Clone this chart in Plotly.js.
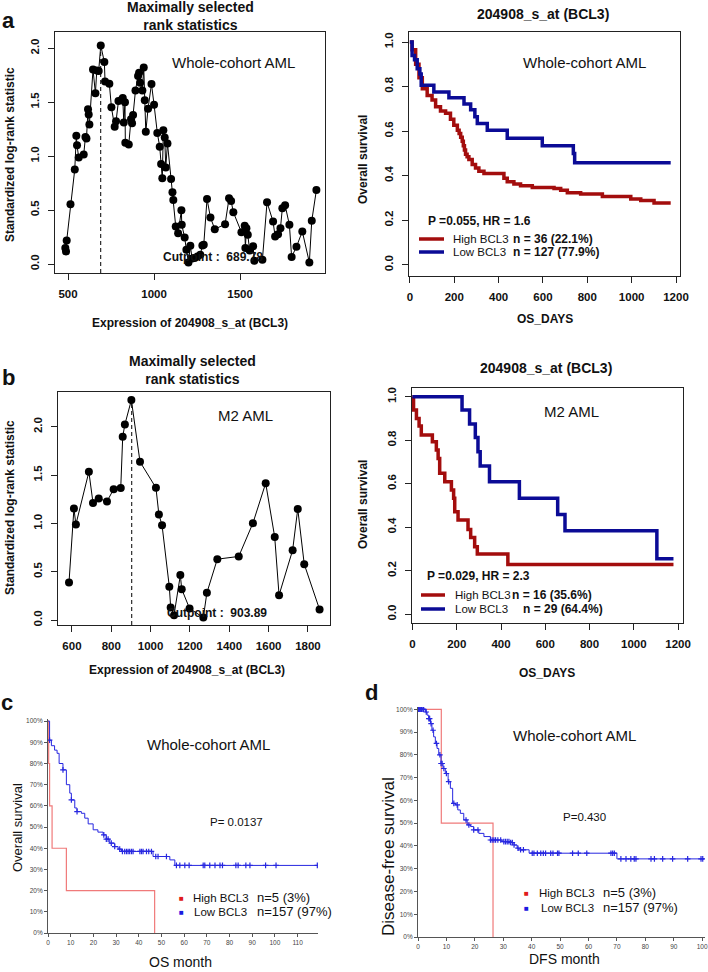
<!DOCTYPE html>
<html>
<head>
<meta charset="utf-8">
<script src="https://cdn.plot.ly/plotly-3.0.1.min.js"></script>
<style>
  html, body { margin: 0; padding: 0; background: #fff; }
  #fig { width: 708px; height: 972px; }
</style>
</head>
<body>
<div id="fig"></div>
<script>
// panel a, left: maximally selected rank statistics, whole cohort
const aExpr = [484, 488, 492, 514, 539, 548, 552, 562, 591, 601, 607, 616, 620, 624, 645, 659, 667, 678, 690, 711,
  715, 740, 752, 771, 779, 793, 812, 818, 824, 831, 833, 853, 866, 872, 878, 892, 907, 913, 919, 932,
  940, 946, 952, 965, 985, 1000, 1019, 1033, 1041, 1048, 1054, 1062, 1068, 1078, 1099, 1107, 1112, 1126, 1140, 1159,
  1161, 1178, 1188, 1200, 1211, 1221, 1236, 1252, 1269, 1281, 1289, 1308, 1328, 1353, 1413, 1436, 1448, 1461, 1508, 1527,
  1531, 1537, 1545, 1556, 1576, 1583, 1630, 1657, 1692, 1704, 1721, 1735, 1746, 1762, 1787, 1800, 1828, 1862, 1903, 1917, 1944];
const aStat = [0.148, 0.117, 0.218, 0.554, 0.877, 1.188, 1.100, 0.988, 1.015, 1.178, 1.163, 1.434, 1.385, 1.292, 1.803, 1.582, 1.794, 1.788, 2.025, 1.871,
  1.692, 1.671, 1.452, 1.271, 1.323, 1.511, 1.523, 1.538, 1.311, 1.498, 1.123, 1.108, 1.342, 1.305, 1.382, 1.609, 1.742, 1.772, 1.680, 1.609,
  1.822, 1.517, 1.225, 1.440, 1.668, 1.477, 1.215, 1.086, 0.926, 0.794, 1.240, 1.172, 0.895, 1.117, 0.788, 0.665, 0.594, 0.348, 0.286, 0.498,
  0.363, 0.246, 0.132, 0.015, 0.169, 0.052, 0.055, 0.071, 0.086, 0.172, 0.178, 0.603, 0.431, 0.323, 0.369, 0.609, 0.585, 0.480, 0.295, 0.354,
  0.148, 0.332, 0.271, 0.126, 0.166, 0.031, 0.040, 0.572, 0.394, 0.255, 0.277, 0.332, 0.517, 0.545, 0.363, 0.065, 0.160, 0.302, 0.015, 0.400, 0.686];
const aCut = 689.78;

// panel b, left: M2 AML
const bExpr = [585, 610, 620, 686, 707, 736, 778, 812, 848, 858, 869, 902, 946, 1027, 1042, 1058, 1095, 1102, 1119, 1151,
  1158, 1198, 1268, 1286, 1339, 1448, 1520, 1585, 1631, 1653, 1722, 1748, 1781, 1859];
const bStat = [0.39, 1.155, 0.99, 1.534, 1.213, 1.259, 1.228, 1.355, 1.366, 1.896, 2.024, 2.276, 1.638, 1.369, 1.093, 0.983, 0.345, 0.131, 0.052, 0.466,
  0.321, 0.121, 0.028, 0.283, 0.631, 0.659, 1.003, 1.417, 0.859, 0.259, 0.724, 1.151, 0.579, 0.11];
const bCut = 903.89;

// panel a, right: OS by BCL3, whole cohort (days)
const aHighT = [0, 10, 26, 41, 56, 78, 100, 116, 138, 161, 183, 198, 214, 222, 229, 236, 241, 246, 251, 258, 266, 281, 296, 311, 334,
  424, 439, 469, 499, 552, 650, 680, 710, 770, 868, 996, 1041, 1101, 1176];
const aHighS = [1.0, 0.965, 0.90, 0.84, 0.79, 0.76, 0.74, 0.71, 0.69, 0.68, 0.654, 0.627, 0.604, 0.59, 0.573, 0.555, 0.535, 0.515, 0.496, 0.485, 0.473, 0.45, 0.435, 0.42, 0.41,
  0.389, 0.373, 0.363, 0.355, 0.347, 0.343, 0.335, 0.324, 0.318, 0.307, 0.296, 0.289, 0.278, 0.278];
const aLowT = [0, 10, 21, 33, 45, 51, 108, 176, 244, 274, 293, 304, 349, 439, 597, 737, 743, 1176];
const aLowS = [1.0, 0.94, 0.92, 0.88, 0.857, 0.806, 0.776, 0.75, 0.722, 0.696, 0.665, 0.634, 0.604, 0.568, 0.535, 0.50, 0.458, 0.458];

// panel b, right: OS by BCL3, M2 AML (days)
const bHighT = [0, 5, 18, 30, 40, 90, 108, 116, 123, 146, 176, 186, 191, 206, 251, 263, 281, 293, 431, 1179];
const bHighS = [1.0, 0.939, 0.90, 0.865, 0.824, 0.793, 0.755, 0.716, 0.648, 0.609, 0.571, 0.533, 0.471, 0.433, 0.39, 0.353, 0.31, 0.277, 0.229, 0.229];
const bLowT = [0, 224, 258, 284, 296, 306, 348, 483, 656, 689, 1104, 1179];
const bLowS = [1.0, 0.939, 0.874, 0.813, 0.747, 0.681, 0.609, 0.533, 0.459, 0.384, 0.255, 0.255];

// panel c: OS month
const cHighT = [0, 0.3, 0.7, 1.8, 8.1, 47];
const cHighS = [1.0, 0.8, 0.6, 0.4, 0.2, 0.0];
const cLowT = [0, 0.7, 1.5, 2.9, 4, 4.9, 6.6, 8.1, 9.6, 10.3, 11.8, 12.8, 14.7, 16.2, 17.7, 19.9, 22, 24.3, 25.7, 27.2,
  29.4, 30.9, 32.4, 46.3, 53.7, 55.9, 118.7];
const cLowS = [1.0, 0.91, 0.884, 0.863, 0.848, 0.80, 0.77, 0.70, 0.66, 0.628, 0.59, 0.573, 0.565, 0.542, 0.515, 0.487, 0.476, 0.463, 0.443, 0.424,
  0.408, 0.396, 0.385, 0.361, 0.345, 0.319, 0.319];
const cCensor = [0.7, 6.6, 10.3, 12.8, 24.6, 25.7, 26.5, 27.9, 29.4, 31.6, 32.8, 33.8, 34.6, 35.3, 36, 36.8, 37.5, 40.5, 41.2, 41.9,
  43.4, 44.4, 45.6, 47.5, 48.5, 52.2, 56.6, 58.1, 60.3, 62.2, 68.4, 69.1, 71.3, 73.6, 75.8, 76.9, 82.8, 83.8, 87.2, 89, 95.9, 100.5, 118.7];

// panel d: DFS month
const dHighT = [0, 8.2, 26.4];
const dHighS = [1.0, 0.5, 0.0];
const dLowT = [0, 2.6, 3.2, 3.8, 4.4, 4.9, 5.5, 6.1, 6.7, 7.3, 8.1, 8.8, 9.6, 10.6, 11.4, 12.2, 13.2, 14, 14.9, 16.1,
  17.3, 18.5, 19.6, 21.4, 23.2, 25.5, 29.6, 32.6, 33.8, 34.9, 36.1, 39.1, 70, 100.8];
const dLowS = [1.0, 0.988, 0.974, 0.959, 0.937, 0.908, 0.879, 0.85, 0.828, 0.80, 0.762, 0.74, 0.718, 0.682, 0.653, 0.587, 0.58, 0.558, 0.543, 0.514,
  0.492, 0.485, 0.47, 0.455, 0.441, 0.426, 0.419, 0.415, 0.404, 0.39, 0.383, 0.368, 0.343, 0.343];
const dCensor = [0.2, 0.6, 0.8, 1.2, 1.4, 1.8, 2.0, 2.9, 3.8, 4.1, 4.6, 5.3, 6.5, 7.7, 8.1, 8.5, 9.1, 10.0, 10.8, 12.6,
  13.8, 16.9, 17.9, 19.6, 21.1, 25.5, 26.1, 26.7, 27.3, 28.1, 29.1, 30.2, 30.8, 31.4, 32.0, 32.6, 33.2, 33.8, 35.2, 36.1,
  37.1, 40.2, 40.8, 42.0, 43.2, 44.1, 44.9, 46.7, 47.5, 49.1, 49.6, 54.4, 56.4, 59.4, 67.9, 68.5, 69.1, 71.4, 73.2, 74.9,
  76.1, 76.7, 82.0, 83.2, 86.1, 89.6, 94.9, 99.6, 100.2];

const W = 708, H = 972;
const px = v => v / W;
const py = v => 1 - v / H;
const FONT = 'Liberation Sans, Arial, sans-serif';
const RED = '#a30d0d', BLUE = '#0b0b96';
const RED2 = '#f07a7a', BLUE2 = '#2727e0';

function survAt(times, surv, t) {
  let s = surv[0];
  for (let i = 0; i < times.length; i++) if (times[i] <= t) s = surv[i];
  return s;
}

function boxAxis(dom, rng, vals, extra) {
  return Object.assign({
    domain: dom, range: rng, tickvals: vals, showline: true, mirror: true,
    linecolor: '#222', linewidth: 1, ticks: 'outside', ticklen: 6, tickcolor: '#222',
    ticklabelstandoff: 4,
    showgrid: false, zeroline: false, fixedrange: true,
    tickfont: {family: FONT, size: 11.5, weight: 'bold', color: '#111'}
  }, extra || {});
}
function gpAxis(dom, rng, dtick, extra) {
  return Object.assign({
    domain: dom, range: rng, dtick: dtick, tick0: 0, showline: true, linecolor: '#555', linewidth: 1,
    ticks: 'outside', ticklen: 3, tickcolor: '#555', showgrid: false, zeroline: false,
    tickfont: {family: FONT, size: 6.5, color: '#444'}
  }, extra || {});
}

const ySpanA = [-0.083, 2.15], ySpanB = [-0.05, 2.36];
const censorMarker = {symbol: 'cross-thin', size: 4, color: BLUE2, line: {color: BLUE2, width: 1.2}};

const traces = [
  {x: [aCut, aCut], y: [ySpanA[0], Math.max(...aStat)], xaxis: 'x', yaxis: 'y', mode: 'lines',
   line: {color: '#000', width: 1, dash: '4px,3px'}},
  {x: aExpr, y: aStat, xaxis: 'x', yaxis: 'y', mode: 'lines+markers',
   line: {color: '#000', width: 1}, marker: {color: '#000', size: 8}},
  {x: aHighT, y: aHighS, xaxis: 'x2', yaxis: 'y2', mode: 'lines', line: {shape: 'hv', color: RED, width: 3.5}},
  {x: aLowT, y: aLowS, xaxis: 'x2', yaxis: 'y2', mode: 'lines', line: {shape: 'hv', color: BLUE, width: 3.5}},
  {x: [bCut, bCut], y: [ySpanB[0], Math.max(...bStat)], xaxis: 'x3', yaxis: 'y3', mode: 'lines',
   line: {color: '#000', width: 1, dash: '4px,3px'}},
  {x: bExpr, y: bStat, xaxis: 'x3', yaxis: 'y3', mode: 'lines+markers',
   line: {color: '#000', width: 1}, marker: {color: '#000', size: 8}},
  {x: bHighT, y: bHighS, xaxis: 'x4', yaxis: 'y4', mode: 'lines', line: {shape: 'hv', color: RED, width: 3.5}},
  {x: bLowT, y: bLowS, xaxis: 'x4', yaxis: 'y4', mode: 'lines', line: {shape: 'hv', color: BLUE, width: 3.5}},
  {x: cHighT, y: cHighS, xaxis: 'x5', yaxis: 'y5', mode: 'lines', line: {shape: 'hv', color: RED2, width: 1.2}},
  {x: cLowT, y: cLowS, xaxis: 'x5', yaxis: 'y5', mode: 'lines', line: {shape: 'hv', color: BLUE2, width: 1}},
  {x: cCensor, y: cCensor.map(t => survAt(cLowT, cLowS, t)), xaxis: 'x5', yaxis: 'y5', mode: 'markers', marker: censorMarker},
  {x: dHighT, y: dHighS, xaxis: 'x6', yaxis: 'y6', mode: 'lines', line: {shape: 'hv', color: RED2, width: 1.2}},
  {x: dLowT, y: dLowS, xaxis: 'x6', yaxis: 'y6', mode: 'lines', line: {shape: 'hv', color: BLUE2, width: 1}},
  {x: dCensor, y: dCensor.map(t => survAt(dLowT, dLowS, t)), xaxis: 'x6', yaxis: 'y6', mode: 'markers', marker: censorMarker}
];

function txt(text, x, y, size, opts) {
  return Object.assign({
    text: text, x: px(x), y: py(y), xref: 'paper', yref: 'paper', showarrow: false,
    xanchor: 'center', yanchor: 'middle',
    font: {family: FONT, size: size, color: '#111'}
  }, opts || {});
}
const bold = s => ({family: FONT, size: s, color: '#111', weight: 'bold'});
const plain = s => ({family: FONT, size: s, color: '#111'});

const annotations = [
  // panel letters
  txt('a', 8, 20, 22, {font: bold(22)}),
  txt('b', 8, 378, 22, {font: bold(22)}),
  txt('c', 7, 702, 22, {font: bold(22)}),
  txt('d', 371, 692, 22, {font: bold(22)}),
  // a left
  txt('Maximally selected<br>rank statistics', 190, 16, 14, {font: bold(14)}),
  txt('Whole-cohort AML', 233, 63, 15, {font: plain(15)}),
  txt('Expression of 204908_s_at (BCL3)', 190, 323, 12, {font: bold(12)}),
  txt('Standardized log-rank statistic', 10, 155, 12, {font: bold(12), textangle: -90}),
  {text: 'Cutpoint :  689.78', x: 1345, y: 0.065, xref: 'x', yref: 'y', showarrow: false, font: bold(12)},
  // a right
  txt('204908_s_at (BCL3)', 543, 14, 14, {font: bold(14)}),
  txt('Whole-cohort AML', 584, 63, 15, {font: plain(15)}),
  txt('OS_DAYS', 545, 319, 12, {font: bold(12)}),
  txt('Overall survival', 363, 160, 12, {font: bold(12), textangle: -90}),
  txt('P =0.055, HR = 1.6', 426, 221, 12, {font: bold(12), xanchor: 'left'}),
  txt('High BCL3', 451, 239, 11.5, {font: plain(11.5), xanchor: 'left'}),
  txt('n = 36 (22.1%)', 511, 239, 12, {font: bold(12), xanchor: 'left'}),
  txt('Low BCL3', 451, 252, 11.5, {font: plain(11.5), xanchor: 'left'}),
  txt('n = 127 (77.9%)', 511, 252, 12, {font: bold(12), xanchor: 'left'}),
  // b left
  txt('Maximally selected<br>rank statistics', 192, 370, 14, {font: bold(14)}),
  txt('M2 AML', 245, 415, 15, {font: plain(15)}),
  txt('Expression of 204908_s_at (BCL3)', 187, 670, 12, {font: bold(12)}),
  txt('Standardized log-rank statistic', 10, 508, 12, {font: bold(12), textangle: -90}),
  {text: 'Cutpoint :  903.89', x: 1335, y: 0.07, xref: 'x3', yref: 'y3', showarrow: false, font: bold(12)},
  // b right
  txt('204908_s_at (BCL3)', 546, 368, 14, {font: bold(14)}),
  txt('M2 AML', 571, 411, 15, {font: plain(15)}),
  txt('OS_DAYS', 547, 673, 12, {font: bold(12)}),
  txt('Overall survival', 363, 505, 12, {font: bold(12), textangle: -90}),
  txt('P =0.029, HR = 2.3', 425, 576, 12, {font: bold(12), xanchor: 'left'}),
  txt('High BCL3', 453, 595, 11.5, {font: plain(11.5), xanchor: 'left'}),
  txt('n = 16 (35.6%)', 510, 595, 12, {font: bold(12), xanchor: 'left'}),
  txt('Low BCL3', 453, 609, 11.5, {font: plain(11.5), xanchor: 'left'}),
  txt('n = 29 (64.4%)', 521, 609, 12, {font: bold(12), xanchor: 'left'}),
  // c
  txt('Whole-cohort AML', 208, 744, 15, {font: plain(15)}),
  txt('P= 0.0137', 236, 822, 11.5, {font: plain(11.5)}),
  txt('Overall survival', 17, 828, 13, {font: plain(13), textangle: -90}),
  txt('OS month', 180, 962, 14, {font: plain(14)}),
  txt('■', 181, 898, 8, {font: {family: FONT, size: 8, color: '#e01b1b'}}),
  txt('■', 181, 912, 8, {font: {family: FONT, size: 8, color: '#1b1be0'}}),
  txt('High BCL3', 191, 898, 11.5, {font: plain(11.5), xanchor: 'left'}),
  txt('Low BCL3', 192, 912, 11.5, {font: plain(11.5), xanchor: 'left'}),
  txt('n=5 (3%)', 255, 897, 13, {font: plain(13), xanchor: 'left'}),
  txt('n=157 (97%)', 255, 911, 13, {font: plain(13), xanchor: 'left'}),
  // d
  txt('Whole-cohort AML', 574, 735, 15, {font: plain(15)}),
  txt('P=0.430', 584, 817, 11.5, {font: plain(11.5)}),
  txt('Disease-free survival', 388, 856, 17, {font: plain(17), textangle: -90}),
  txt('DFS month', 564, 959, 14, {font: plain(14)}),
  txt('■', 526, 893, 8, {font: {family: FONT, size: 8, color: '#e01b1b'}}),
  txt('■', 526, 908, 8, {font: {family: FONT, size: 8, color: '#1b1be0'}}),
  txt('High BCL3', 537, 893, 11.5, {font: plain(11.5), xanchor: 'left'}),
  txt('Low BCL3', 539, 908, 11.5, {font: plain(11.5), xanchor: 'left'}),
  txt('n=5 (3%)', 601, 892, 13, {font: plain(13), xanchor: 'left'}),
  txt('n=157 (97%)', 601, 907, 13, {font: plain(13), xanchor: 'left'})
];

const shapes = [
  {type: 'line', xref: 'paper', yref: 'paper', x0: px(419), x1: px(444), y0: py(239), y1: py(239), line: {color: RED, width: 3.5}},
  {type: 'line', xref: 'paper', yref: 'paper', x0: px(419), x1: px(444), y0: py(252), y1: py(252), line: {color: BLUE, width: 3.5}},
  {type: 'line', xref: 'paper', yref: 'paper', x0: px(421), x1: px(445), y0: py(595), y1: py(595), line: {color: RED, width: 3.5}},
  {type: 'line', xref: 'paper', yref: 'paper', x0: px(421), x1: px(445), y0: py(609), y1: py(609), line: {color: BLUE, width: 3.5}}
];

const layout = {
  width: W, height: H,
  margin: {l: 0, r: 0, t: 0, b: 0},
  paper_bgcolor: '#fff', plot_bgcolor: 'rgba(0,0,0,0)',
  showlegend: false, hovermode: false,
  font: {family: FONT},
  xaxis: boxAxis([px(55), px(325)], [424, 1994], [500, 1000, 1500], {anchor: 'y'}),
  yaxis: boxAxis([py(273), py(32)], ySpanA, [0, 0.5, 1, 1.5, 2], {anchor: 'x', tickangle: -90, tickformat: '.1f'}),
  xaxis2: boxAxis([px(409), px(680)], [-4, 1218], [0, 200, 400, 600, 800, 1000, 1200], {anchor: 'y2'}),
  yaxis2: boxAxis([py(276), py(32)], [-0.05, 1.045], [0, 0.2, 0.4, 0.6, 0.8, 1], {anchor: 'x2', tickangle: -90, tickformat: '.1f'}),
  xaxis3: boxAxis([px(58), px(330)], [529, 1912], [600, 800, 1000, 1200, 1400, 1600, 1800], {anchor: 'y3'}),
  yaxis3: boxAxis([py(625), py(392)], ySpanB, [0, 0.5, 1, 1.5, 2], {anchor: 'x3', tickangle: -90, tickformat: '.1f'}),
  xaxis4: boxAxis([px(412), px(683)], [-2, 1222], [0, 200, 400, 600, 800, 1000, 1200], {anchor: 'y4'}),
  yaxis4: boxAxis([py(623), py(388)], [-0.04, 1.04], [0, 0.2, 0.4, 0.6, 0.8, 1], {anchor: 'x4', tickangle: -90, tickformat: '.1f'}),
  xaxis5: gpAxis([px(48), px(318)], [0, 119], 10, {anchor: 'y5'}),
  yaxis5: gpAxis([py(933), py(719)], [0, 1.01], 0.1, {anchor: 'x5', tickformat: '.0%'}),
  xaxis6: gpAxis([px(418), px(705)], [0, 101], 10, {anchor: 'y6'}),
  yaxis6: gpAxis([py(937), py(707)], [0, 1.01], 0.1, {anchor: 'x6', tickformat: '.0%'}),
  annotations: annotations,
  shapes: shapes
};

Plotly.newPlot('fig', traces, layout, {staticPlot: true, displayModeBar: false});
</script>
</body>
</html>
